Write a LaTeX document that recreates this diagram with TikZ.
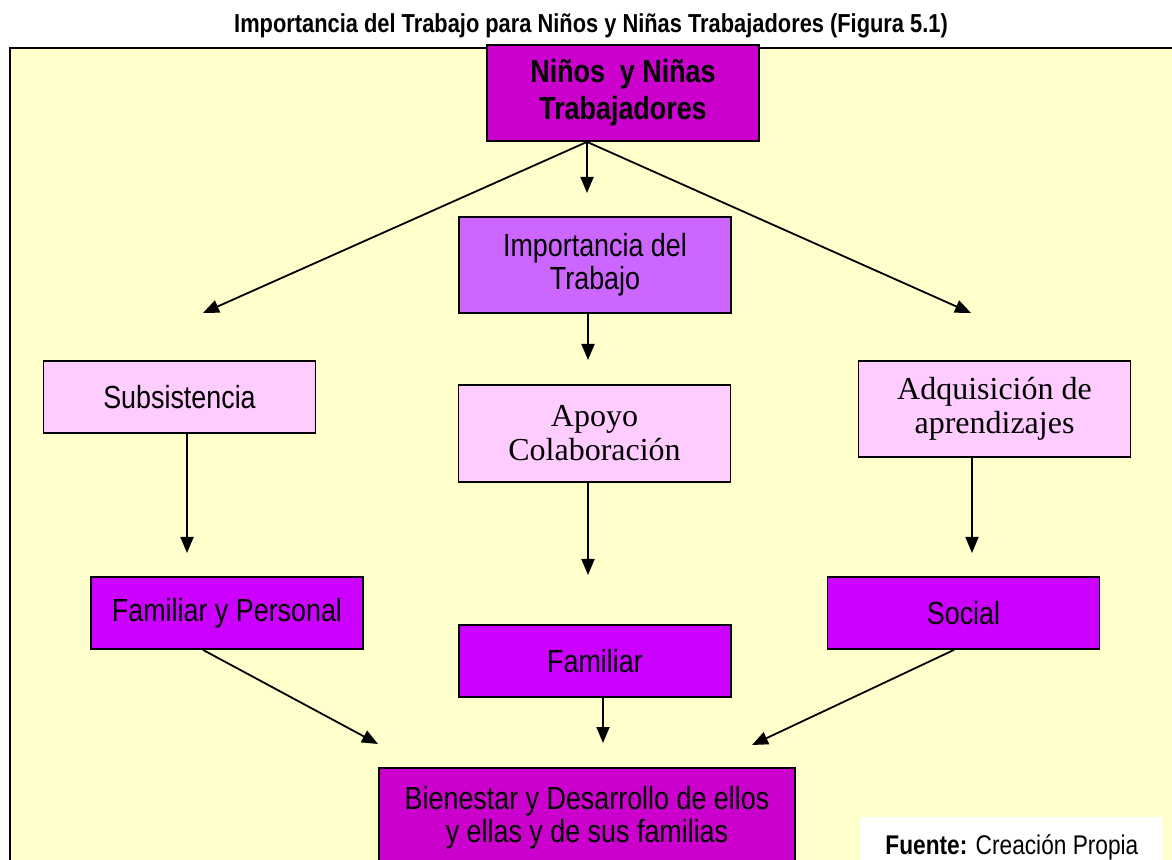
\documentclass[tikz,border=0pt]{standalone}
\usepackage{fontspec}
\setmainfont{Liberation Sans}[FakeStretch=0.84]
\newfontfamily\timesfont{Liberation Serif}
\usetikzlibrary{arrows.meta,positioning}

\definecolor{bgyellow}{HTML}{FFFFCC}
\definecolor{magbox}{HTML}{CC00CC}
\definecolor{violetbox}{HTML}{CC66FF}
\definecolor{pinkbox}{HTML}{FFCCFF}
\definecolor{purplebox}{HTML}{CC00FF}

\begin{document}
\begin{tikzpicture}[
    x=0.5pt, y=-0.5pt,
    box/.style={rectangle, draw, line width=0.9pt, minimum width=136pt, align=center, inner sep=0pt, font=\fontsize{16}{16.5}\selectfont},
    serifbox/.style={box, font=\timesfont\fontsize{16}{17}\selectfont},
    arrow/.style={-{Triangle[length=8pt,width=6.5pt]}, line width=0.9pt}
]

% Canvas and frame
\useasboundingbox (0,0) rectangle (1172,860);
\clip (0,0) rectangle (1172,860);
\fill[white] (0,0) rectangle (1172,860);
\draw[line width=1pt, fill=bgyellow] (10,48) rectangle (1190,890);

% Title
\node[font=\fontsize{13}{15}\selectfont\bfseries, anchor=base] (title) at (591,33) {Importancia del Trabajo para Niños y Niñas Trabajadores (Figura 5.1)};

% Top level
\node[box, fill=magbox, minimum height=48pt, font=\fontsize{16}{18.5}\selectfont\bfseries] (ninos) at (623,93) {Niños\ \ y Niñas\\Trabajadores};
\node[box, fill=violetbox, minimum height=48pt] (imp) at (595,265) {Importancia del\\Trabajo};

% Middle row
\node[box, fill=pinkbox, minimum height=36pt] (subs) at (179.5,397) {Subsistencia};
\node[serifbox, fill=pinkbox, minimum height=48.5pt] (apoyo) at (594.5,433.5) {Apoyo\\Colaboración};
\node[serifbox, fill=pinkbox, minimum height=48pt] (adq) at (994.5,409) {Adquisición de\\aprendizajes};

% Lower row
\node[box, fill=purplebox, minimum height=36pt] (fyp) at (227,613) {Familiar y Personal};
\node[box, fill=purplebox, minimum height=36pt] (fam) at (595,661) {Familiar};
\node[box, fill=purplebox, minimum height=36pt] (soc) at (963.5,613) {Social};

% Result
\node[box, fill=magbox, minimum width=208pt, minimum height=50pt] (bien) at (587,818) {Bienestar y Desarrollo de ellos\\y ellas y de sus familias};

% Source
\node[fill=white, anchor=north west, minimum width=151.5pt, minimum height=30pt, font=\fontsize{13.5}{15}\selectfont] (fuente) at (860,817) {\textbf{Fuente:} Creación Propia};

% Arrow tips
\coordinate (tipimp) at (587,193);
\coordinate (tipsubs) at (203,313);
\coordinate (tipadq) at (971,313);
\coordinate (tipapoyo) at (588,360);
\coordinate (tipfyp) at (187,553);
\coordinate (tipfam) at (588,575);
\coordinate (tipsoc) at (972,553);
\coordinate (tipbl) at (378,744);
\coordinate (tipbc) at (603,743);
\coordinate (tipbr) at (752,745);

% Arrows
\foreach \a/\s/\b in {ninos/-18/tipimp, ninos/-18/tipsubs, ninos/-18/tipadq, imp/-3.5/tipapoyo, subs/3.75/tipfyp, apoyo/-3.25/tipfam, adq/-11.25/tipsoc, fyp/-12/tipbl, fam/4/tipbc, soc/-4.75/tipbr} {
    \draw[arrow] ([xshift=\s pt]\a.south) -- (\b);
}

\end{tikzpicture}
\end{document}
